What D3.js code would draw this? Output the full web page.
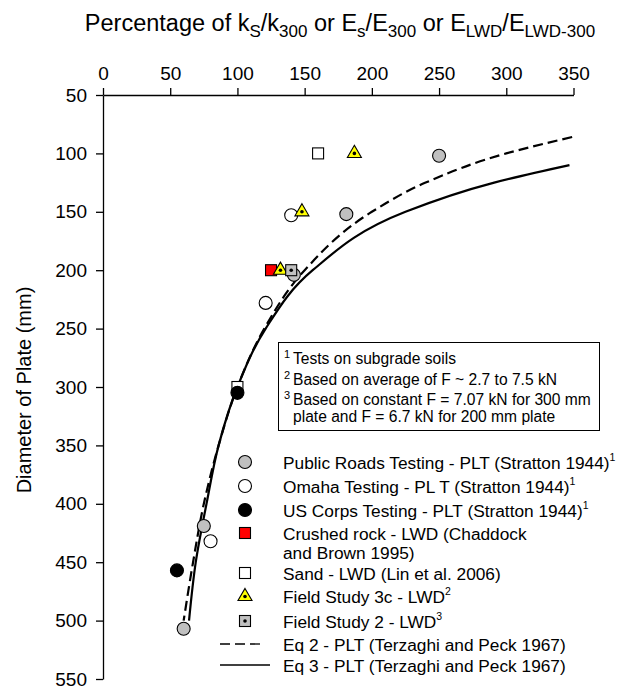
<!DOCTYPE html>
<html>
<head>
<meta charset="utf-8">
<script src="https://cdn.jsdelivr.net/npm/d3@7"></script>
<style>
  body { margin: 0; background: #fff; }
  svg { font-family: Arial, "Liberation Sans", sans-serif; }
</style>
</head>
<body>
<div id="chart"></div>
<script>
// data: [percentage, diameter]
var publicRoads = [[250, 102], [181, 152], [142, 204], [75, 419], [60, 507]];
var omaha = [[140, 153], [121, 228], [80, 432]];
var usCorps = [[100, 305], [55, 457]];
var crushedRock = [[125, 200]];
var sand = [[160, 100], [100, 300]];
var field3c = [[187, 100], [148, 150], [132, 200]];
var field2 = [[140, 200]];

// curves, read at a few plate sizes
var eq2 = [[349, 86], [300, 100], [240, 125], [200, 150], [150, 200], [120, 250], [100, 300], [86, 350], [75, 400], [67, 450], [60, 500]];
var eq3 = [[347, 110], [291, 125], [225, 150], [156, 200], [121, 250], [100, 300], [86, 350], [77, 400], [69, 450], [64, 500]];

var xTicks = [0, 50, 100, 150, 200, 250, 300, 350];
var yTicks = [50, 100, 150, 200, 250, 300, 350, 400, 450, 500, 550];

var notes = [
  ["1", "Tests on subgrade soils"],
  ["2", "Based on average of F ~ 2.7 to 7.5 kN"],
  ["3", "Based on constant F = 7.07 kN for 300 mm"],
  ["", "plate and F = 6.7 kN for 200 mm plate"]
];

var legendItems = [
  {type: "circle", fill: "#c0c0c0", text: ["Public Roads Testing - PLT (Stratton 1944)"], sup: "1"},
  {type: "circle", fill: "#ffffff", text: ["Omaha Testing - PL T (Stratton 1944)"], sup: "1"},
  {type: "circle", fill: "#000000", text: ["US Corps Testing - PLT (Stratton 1944)"], sup: "1"},
  {type: "square", fill: "#ff0000", text: ["Crushed rock - LWD (Chaddock", "and Brown 1995)"], sup: ""},
  {type: "square", fill: "#ffffff", text: ["Sand - LWD (Lin et al. 2006)"], sup: ""},
  {type: "triangle", fill: "#ffff00", text: ["Field Study 3c - LWD"], sup: "2"},
  {type: "squaredot", fill: "#c0c0c0", text: ["Field Study 2 - LWD"], sup: "3"},
  {type: "dash", text: ["Eq 2 - PLT (Terzaghi and Peck 1967)"], sup: ""},
  {type: "line", text: ["Eq 3 - PLT (Terzaghi and Peck 1967)"], sup: ""}
];

var width = 620, height = 687;

var svg = d3.select("#chart")
  .append("svg")
  .attr("width", width)
  .attr("height", height);

var x = d3.scaleLinear().domain([0, 350]).range([103, 573.5]);
var y = d3.scaleLinear().domain([50, 550]).range([95, 679]);

// axes
var xAxis = d3.axisTop(x).tickValues(xTicks).tickSize(7).tickSizeOuter(0).tickPadding(8);
var yAxis = d3.axisLeft(y).tickValues(yTicks).tickSize(7).tickSizeOuter(0).tickPadding(9);

var gx = svg.append("g")
  .attr("transform", "translate(0," + y(50) + ")")
  .call(xAxis);
var gy = svg.append("g")
  .attr("transform", "translate(" + x(0) + ",0)")
  .call(yAxis);

[gx, gy].forEach(function(g) {
  g.selectAll("path, line").attr("stroke", "#000").attr("stroke-width", 1.3);
  g.selectAll("text").attr("font-size", 19).attr("fill", "#000")
    .attr("font-family", "Arial, 'Liberation Sans', sans-serif");
});

// titles
var title = svg.append("text")
  .attr("x", 340)
  .attr("y", 31)
  .attr("text-anchor", "middle")
  .attr("font-size", 23.5);
function sub(t, s, dy) {
  t.append("tspan").attr("font-size", 17).attr("dy", dy).text(s);
}
title.append("tspan").text("Percentage of k");
sub(title, "S", 6);
title.append("tspan").attr("dy", -6).text("/k");
sub(title, "300", 6);
title.append("tspan").attr("dy", -6).text(" or E");
sub(title, "s", 6);
title.append("tspan").attr("dy", -6).text("/E");
sub(title, "300", 6);
title.append("tspan").attr("dy", -6).text(" or E");
sub(title, "LWD", 6);
title.append("tspan").attr("dy", -6).text("/E");
sub(title, "LWD-300", 6);

svg.append("text")
  .attr("transform", "translate(31," + 390 + ") rotate(-90)")
  .attr("text-anchor", "middle")
  .attr("font-size", 20)
  .text("Diameter of Plate (mm)");

// curves
var line = d3.line()
  .x(function(d) { return x(d[0]); })
  .y(function(d) { return y(d[1]); })
  .curve(d3.curveMonotoneY);

svg.append("path")
  .datum(eq2)
  .attr("d", line)
  .attr("fill", "none")
  .attr("stroke", "#000")
  .attr("stroke-width", 2.2)
  .attr("stroke-dasharray", "10,5");

svg.append("path")
  .datum(eq3)
  .attr("d", line)
  .attr("fill", "none")
  .attr("stroke", "#000")
  .attr("stroke-width", 2.2);

// marker drawing
function drawMarker(g, type, fill, cx, cy) {
  if (type == "circle") {
    g.append("circle").attr("cx", cx).attr("cy", cy).attr("r", 6.5)
      .attr("fill", fill).attr("stroke", "#000").attr("stroke-width", 1.1);
  } else if (type == "square" || type == "squaredot") {
    g.append("rect").attr("x", cx - 5.5).attr("y", cy - 5.5)
      .attr("width", 11).attr("height", 11)
      .attr("fill", fill).attr("stroke", "#000").attr("stroke-width", 1.1);
    if (type == "squaredot") {
      g.append("circle").attr("cx", cx).attr("cy", cy).attr("r", 1.8).attr("fill", "#000");
    }
  } else if (type == "triangle") {
    g.append("path")
      .attr("transform", "translate(" + cx + "," + cy + ")")
      .attr("d", d3.symbol().type(d3.symbolTriangle).size(85)())
      .attr("fill", fill).attr("stroke", "#000").attr("stroke-width", 1.1);
    g.append("circle").attr("cx", cx).attr("cy", cy).attr("r", 1.8).attr("fill", "#000");
  }
}

var series = [
  {data: publicRoads, type: "circle", fill: "#c0c0c0"},
  {data: omaha, type: "circle", fill: "#ffffff"},
  {data: sand, type: "square", fill: "#ffffff"},
  {data: usCorps, type: "circle", fill: "#000000"},
  {data: crushedRock, type: "square", fill: "#ff0000"},
  {data: field3c, type: "triangle", fill: "#ffff00"},
  {data: field2, type: "squaredot", fill: "#c0c0c0"}
];

var pts = svg.append("g");
series.forEach(function(s) {
  s.data.forEach(function(d) {
    drawMarker(pts, s.type, s.fill, x(d[0]), y(d[1]));
  });
});

// note box
var nb = svg.append("g");
nb.append("rect")
  .attr("x", 278.5).attr("y", 342.5)
  .attr("width", 321).attr("height", 88)
  .attr("fill", "#fff").attr("stroke", "#000").attr("stroke-width", 1);
var noteY = [364, 385, 405, 422];
notes.forEach(function(n, i) {
  if (n[0]) {
    nb.append("text").attr("x", 284).attr("y", noteY[i] - 6)
      .attr("font-size", 11).text(n[0]);
  }
  nb.append("text").attr("x", 293).attr("y", noteY[i])
    .attr("font-size", 15.6).text(n[1]);
});

// legend
var legY = [462, 486, 510, 533, 573, 596.5, 621, 644, 665];
var lg = svg.append("g");
legendItems.forEach(function(it, i) {
  var cy = legY[i];
  if (it.type == "dash") {
    lg.append("line").attr("x1", 220).attr("x2", 265).attr("y1", cy).attr("y2", cy)
      .attr("stroke", "#000").attr("stroke-width", 1.3).attr("stroke-dasharray", "10,5");
  } else if (it.type == "line") {
    lg.append("line").attr("x1", 220).attr("x2", 270).attr("y1", cy).attr("y2", cy)
      .attr("stroke", "#000").attr("stroke-width", 1.3);
  } else {
    drawMarker(lg, it.type, it.fill, 245, cy);
  }
  it.text.forEach(function(t, j) {
    var tx = lg.append("text").attr("x", 283).attr("y", cy + 6.5 + j * 19)
      .attr("font-size", 17.3);
    tx.append("tspan").text(t);
    if (it.sup && j == it.text.length - 1) {
      tx.append("tspan").attr("font-size", 10.5).attr("dy", -8).text(it.sup);
    }
  });
});
</script>
</body>
</html>
